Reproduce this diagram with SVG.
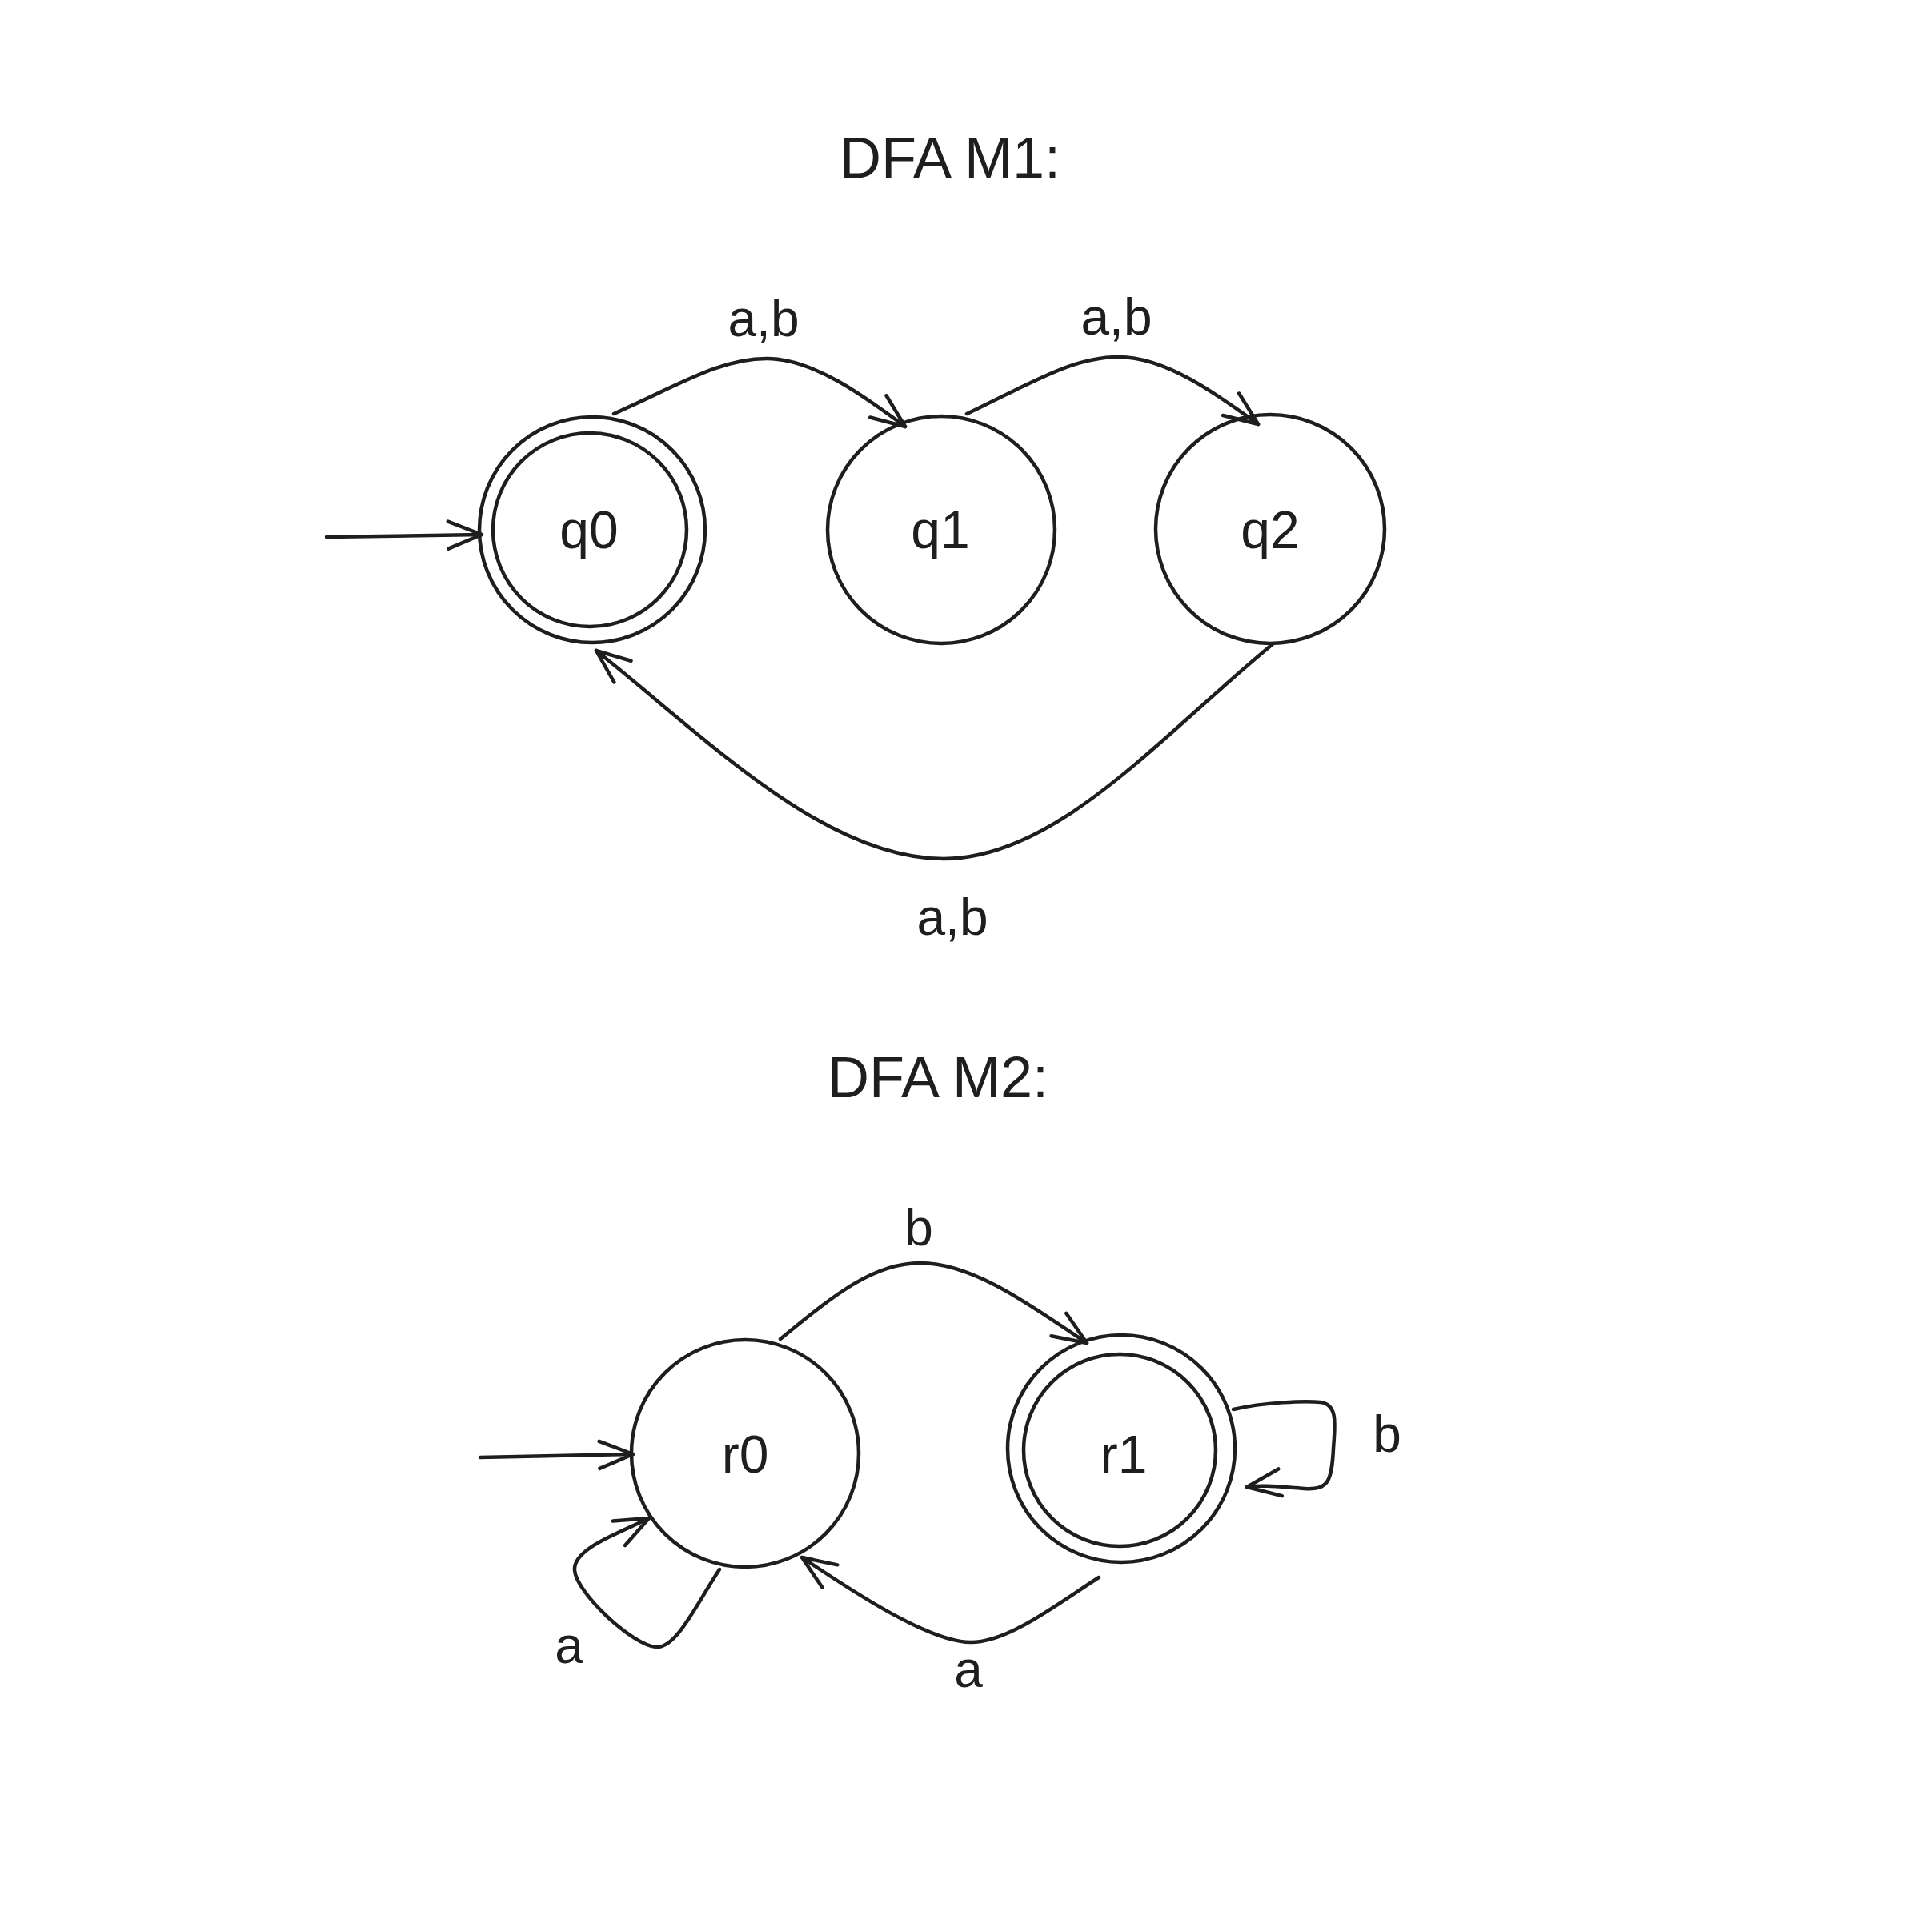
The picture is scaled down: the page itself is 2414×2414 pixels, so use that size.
<svg xmlns="http://www.w3.org/2000/svg" width="2414" height="2414" viewBox="0 0 2414 2414">
<style>
.st{fill:none;stroke:#1e1e1e;stroke-width:4.5;stroke-linecap:round;stroke-linejoin:round}
.lb{font-family:"Liberation Sans","DejaVu Sans",sans-serif;fill:#1e1e1e;text-anchor:middle}
.title{font-size:72px}
.edge{font-size:64px}
.node{font-size:66px}
</style>
<defs>
<marker id="ah" markerUnits="userSpaceOnUse" markerWidth="60" markerHeight="60" viewBox="-50 -30 60 60" refX="0" refY="0" orient="auto">
<path d="M-42,-17 L0,0 L-42,17" fill="none" stroke="#1e1e1e" stroke-width="4.5" stroke-linecap="round" stroke-linejoin="round"/>
</marker>
</defs>
<rect width="2414" height="2414" fill="#ffffff"/>
<text class="lb title" x="1187" y="222">DFA M1:</text>
<text class="lb title" x="1172" y="1371">DFA M2:</text>
<g id="q0"><circle class="st" cx="740" cy="662" r="141"/><circle class="st" cx="737" cy="662" r="121"/><text class="lb node" x="736" y="685">q0</text></g>
<g id="q1"><circle class="st" cx="1176" cy="662" r="142"/><text class="lb node" x="1175" y="685">q1</text></g>
<g id="q2"><circle class="st" cx="1587" cy="661" r="143"/><text class="lb node" x="1587" y="685">q2</text></g>
<g id="r0"><circle class="st" cx="931" cy="1816" r="142"/><text class="lb node" x="931" y="1840">r0</text></g>
<g id="r1"><circle class="st" cx="1401" cy="1810" r="142"/><circle class="st" cx="1399" cy="1812" r="120"/><text class="lb node" x="1404" y="1840">r1</text></g>
<g id="connectors">
<path class="st" marker-end="url(#ah)" d="M408,671 L602,668"/>
<path class="st" marker-end="url(#ah)" d="M767,517 C850,480 900,448 958,448 S1080,495 1131,533"/>
<path class="st" marker-end="url(#ah)" d="M1208,517 C1290,478 1340,446 1398,446 S1520,492 1572,530"/>
<path class="st" marker-end="url(#ah)" d="M1590,805 C1450,920 1320,1073 1179,1073 C1030,1073 880,920 745,813"/>
<path class="st" marker-end="url(#ah)" d="M600,1821 L791,1817"/>
<path class="st" marker-end="url(#ah)" d="M975,1673 C1040,1620 1090,1578 1150,1578 C1220,1578 1300,1640 1358,1678"/>
<path class="st" marker-end="url(#ah)" d="M1541,1761 C1580,1752 1630,1750 1650,1752 C1672,1755 1668,1780 1666,1810 C1664,1850 1660,1862 1630,1860 C1600,1858 1580,1855 1558,1858"/>
<path class="st" marker-end="url(#ah)" d="M1373,1971 C1320,2005 1260,2052 1213,2052 C1160,2052 1060,1985 1002,1946"/>
<path class="st" marker-end="url(#ah)" d="M899,1961 C870,2005 845,2060 820,2058 C790,2056 720,1990 718,1962 C716,1935 775,1915 811,1897"/>
<text class="lb edge" x="954" y="420">a,b</text>
<text class="lb edge" x="1395" y="418">a,b</text>
<text class="lb edge" x="1190" y="1168">a,b</text>
<text class="lb edge" x="1148" y="1556">b</text>
<text class="lb edge" x="1733" y="1814">b</text>
<text class="lb edge" x="1210" y="2108">a</text>
<text class="lb edge" x="711" y="2078">a</text>
</g>
</svg>
